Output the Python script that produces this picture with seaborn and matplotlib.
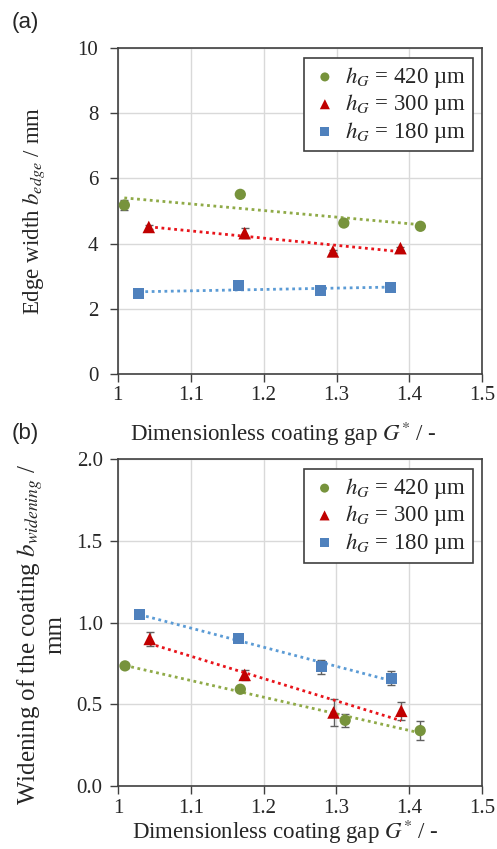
import matplotlib
matplotlib.use("Agg")
import matplotlib.pyplot as plt
import seaborn as sns
import numpy as np
import pandas as pd

# ---- data ----
series_labels = ["420", "300", "180"]

# panel (a): edge width
xa_420 = [1.009, 1.168, 1.310, 1.415]
ya_420 = [5.18, 5.51, 4.63, 4.53]
ea_420 = [0.15, 0.05, 0.05, 0.05]
xa_300 = [1.0425, 1.174, 1.295, 1.3876]
ya_300 = [4.51, 4.32, 3.76, 3.86]
ea_300 = [0.05, 0.15, 0.05, 0.05]
xa_180 = [1.029, 1.165, 1.278, 1.374]
ya_180 = [2.46, 2.71, 2.56, 2.66]
ea_180 = [0.10, 0.05, 0.05, 0.05]

# panel (b): widening
xb_420 = [1.0096, 1.168, 1.312, 1.415]
yb_420 = [0.735, 0.592, 0.402, 0.339]
eb_420 = [0.01, 0.01, 0.04, 0.057]
xb_300 = [1.0436, 1.174, 1.296, 1.389]
yb_300 = [0.90, 0.68, 0.45, 0.46]
eb_300 = [0.045, 0.03, 0.08, 0.055]
xb_180 = [1.030, 1.165, 1.279, 1.375]
yb_180 = [1.05, 0.90, 0.73, 0.66]
eb_180 = [0.01, 0.01, 0.043, 0.045]

x_ticks = [1, 1.1, 1.2, 1.3, 1.4, 1.5]
x_ticklabels = ["1", "1.1", "1.2", "1.3", "1.4", "1.5"]
ya_ticks = [0, 2, 4, 6, 8, 10]
yb_ticks = [0.0, 0.5, 1.0, 1.5, 2.0]
yb_ticklabels = ["0.0", "0.5", "1.0", "1.5", "2.0"]

colors = {"420": "#77933C", "300": "#C00000", "180": "#4F81BD"}
line_colors = {"420": "#8FAA47", "300": "#E8141B", "180": "#5B9BD5"}
markers = {"420": "o", "300": "^", "180": "s"}
msizes = {"420": 66, "300": 82, "180": 62}

sns.set_theme(style="whitegrid")
plt.rcParams["font.family"] = ["Liberation Serif", "DejaVu Serif"]
plt.rcParams["mathtext.fontset"] = "stix"

fig = plt.figure(figsize=(4.97, 8.49), dpi=100)
ax_a = fig.add_axes([0.237, 0.5595, 0.7336, 0.384])
ax_b = fig.add_axes([0.2374, 0.0742, 0.7326, 0.385])

panels = [
    (ax_a, {"420": (xa_420, ya_420, ea_420), "300": (xa_300, ya_300, ea_300), "180": (xa_180, ya_180, ea_180)}),
    (ax_b, {"420": (xb_420, yb_420, eb_420), "300": (xb_300, yb_300, eb_300), "180": (xb_180, yb_180, eb_180)}),
]

for ax, data in panels:
    for s in series_labels:
        x, y, e = data[s]
        df = pd.DataFrame({"x": x, "y": y})
        ax.errorbar(x, y, yerr=e, fmt="none", ecolor="#606060", elinewidth=1.0,
                    capsize=3, capthick=1.0, zorder=2)
        sns.regplot(data=df, x="x", y="y", ax=ax, scatter=False, ci=None, truncate=True,
                    line_kws=dict(color=line_colors[s], linestyle=(0, (1, 1.3)), linewidth=2.0, zorder=3))
        sns.scatterplot(data=df, x="x", y="y", ax=ax, marker=markers[s], s=msizes[s],
                        color=colors[s], edgecolor="none", zorder=4,
                        label=r"$h_G$" + " = " + s + " µm")
    ax.set_xlim(1, 1.5)
    ax.set_xticks(x_ticks)
    ax.set_xticklabels(x_ticklabels)
    ax.grid(True, color="#D9D9D9", linewidth=1.0)
    for sp in ax.spines.values():
        sp.set_color("#404040")
        sp.set_linewidth(1.2)
    ax.tick_params(axis="both", which="major", labelsize=15, length=6, width=1.0,
                   color="#404040", direction="out", bottom=True, left=True)
    ax.tick_params(axis="x", pad=3)
    leg = ax.legend(loc="upper right", fontsize=16.5, frameon=True, fancybox=False,
                    edgecolor="#404040", framealpha=1, handletextpad=0.3, borderpad=0.3,
                    labelspacing=0.1, markerscale=0.8, handlelength=1.2,
                    bbox_to_anchor=(0.975, 0.969), borderaxespad=0)
    leg.get_frame().set_linewidth(1.2)

ax_a.tick_params(axis="y", pad=8)
ax_b.tick_params(axis="y", pad=5)

ax_a.set_xlabel(r"Dimensionless coating gap $G^{*}$ / -", fontsize=16.5, labelpad=10)
ax_b.set_xlabel(r"Dimensionless coating gap $G^{*}$ / -", fontsize=16.5, labelpad=0)
ax_a.xaxis.label.set_x(0.455)
ax_b.xaxis.label.set_x(0.46)

ax_a.set_ylim(0, 10)
ax_a.set_yticks(ya_ticks)
ax_a.set_ylabel(r"Edge width $b_{edge}$ / mm", fontsize=16.5, labelpad=22)

ax_b.set_ylim(0, 2.0)
ax_b.set_yticks(yb_ticks)
ax_b.set_yticklabels(yb_ticklabels)
ax_b.set_ylabel("Widening of the coating $b_{widening}$ /\nmm", fontsize=18, labelpad=7,
                linespacing=1.0)
ax_b.yaxis.label.set_y(0.465)

fig.text(0.024, 0.973, "(a)", fontsize=16, family="Liberation Sans", va="center", ha="left")
fig.text(0.024, 0.489, "(b)", fontsize=16, family="Liberation Sans", va="center", ha="left")

fig.savefig("out.png", dpi=100)
